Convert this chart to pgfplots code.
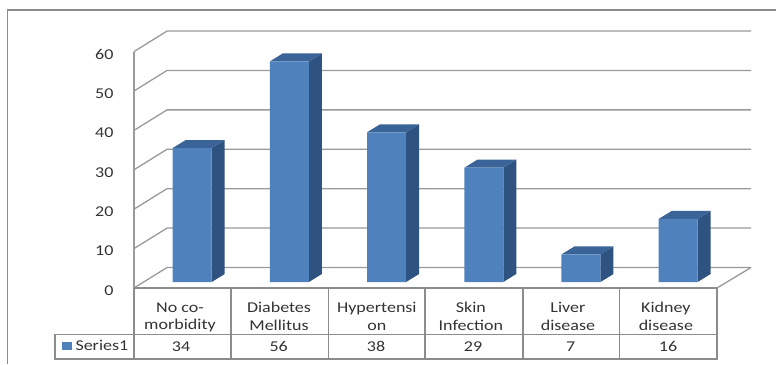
\documentclass[border=0pt]{standalone}
\usepackage{pgfplots}
\pgfplotsset{compat=1.18}
\usepackage{fontspec}
\setmainfont[FakeStretch=1.2]{Carlito}
\definecolor{barfront}{HTML}{4F81BD}
\definecolor{barside}{HTML}{2F5380}
\definecolor{bartop}{HTML}{3A6397}
\definecolor{rulegray}{HTML}{8C8C8C}
\definecolor{gridgray}{HTML}{9A9A9A}
\definecolor{labelgray}{HTML}{333333}
% side and top faces of a bar centred at #1 with value #2
\newcommand\barfaces[2]{%
  \fill[barside] ([xshift=19.5pt]axis cs:#1,0) -- ([xshift=32.5pt,yshift=8pt]axis cs:#1,0)
    -- ([xshift=32.5pt,yshift=8pt]axis cs:#1,#2) -- ([xshift=19.5pt]axis cs:#1,#2) -- cycle;
  \fill[bartop] ([xshift=-19.5pt]axis cs:#1,#2) -- ([xshift=19.5pt]axis cs:#1,#2)
    -- ([xshift=32.5pt,yshift=8pt]axis cs:#1,#2) -- ([xshift=-6.5pt,yshift=8pt]axis cs:#1,#2) -- cycle;
}
% floor or wall line at level #1: side wall, then back wall
\newcommand\wallline[1]{%
  \draw[gridgray,line width=1.3pt] (axis cs:-0.599,#1) -- ([xshift=33pt,yshift=20.5pt]axis cs:-0.599,#1)
    -- ([xshift=617pt,yshift=20.5pt]axis cs:-0.599,#1);
}
\begin{document}
\begin{tikzpicture}[x=1pt,y=1pt]
\useasboundingbox (0,0) rectangle (776,364);
% outer chart frame, open towards the right and the bottom
\draw[rulegray,line width=1.3pt] (7.5,0) -- (7.5,354) -- (776,354);
\begin{axis}[
  at={(134pt,76pt)}, anchor=south west,
  scale only axis, width=583pt, height=236.9pt,
  xmin=-0.599, xmax=5.400, ymin=-1.52, ymax=58.6,
  clip=false,
  axis line style={draw=none},
  major tick length=0pt,
  xtick={-0.126,0.893,1.9,2.868,3.866,4.874},
  xticklabels={No co-\\morbidity,Diabetes\\Mellitus,Hypertensi\\on,Skin\\Infection,Liver\\disease,Kidney\\disease},
  xticklabel style={align=center,font=\fontsize{15}{17.7}\selectfont,text=labelgray,anchor=north,yshift=-11pt},
  ytick={-1.52,8.48,18.48,28.48,38.48,48.48,58.48},
  yticklabels={0,10,20,30,40,50,60},
  yticklabel style={font=\fontsize{15}{17}\selectfont,text=labelgray,anchor=east,xshift=-17pt,yshift=-2.5pt},
  /pgf/number format/assume math mode=true,
]
% walls and floor
\wallline{-1.52}\wallline{8.48}\wallline{18.48}\wallline{28.48}\wallline{38.48}\wallline{48.48}\wallline{58.48}
\draw[gridgray,line width=1.3pt] (axis cs:5.400,-1.52) -- ([xshift=34pt,yshift=20.5pt]axis cs:5.400,-1.52);
\draw[gridgray,line width=1.3pt] (axis cs:-0.599,-1.52) -- (axis cs:-0.599,58.48);
% bars
\barfaces{0}{34}\barfaces{1}{56}\barfaces{2}{38}\barfaces{3}{29}\barfaces{4}{7}\barfaces{5}{16}
\addplot[ybar,bar width=39pt,fill=barfront,draw=none] coordinates {(0,34) (1,56) (2,38) (3,29) (4,7) (5,16)};
\end{axis}
% data table under the plot
\draw[rulegray,line width=1.3pt] (134,76) -- (717,76);
\draw[rulegray,line width=1.3pt] (55,29.7) rectangle (717,5);
\foreach \x in {134,231,328.3,425,523,619.7,717}
  \draw[rulegray,line width=1.3pt] (\x,76) -- (\x,5);
\fill[barfront] (61.7,14) rectangle (72,22.3);
\node[anchor=west,inner sep=0pt,font=\fontsize{15}{17}\selectfont,text=labelgray] at (75.3,19) {Series1};
\foreach \x/\v in {181/34,278.7/56,376/38,473/29,570.7/7,668/16}
  \node[font=\fontsize{15}{17}\selectfont,text=labelgray] at (\x,17.5) {\v};
\end{tikzpicture}
\end{document}
